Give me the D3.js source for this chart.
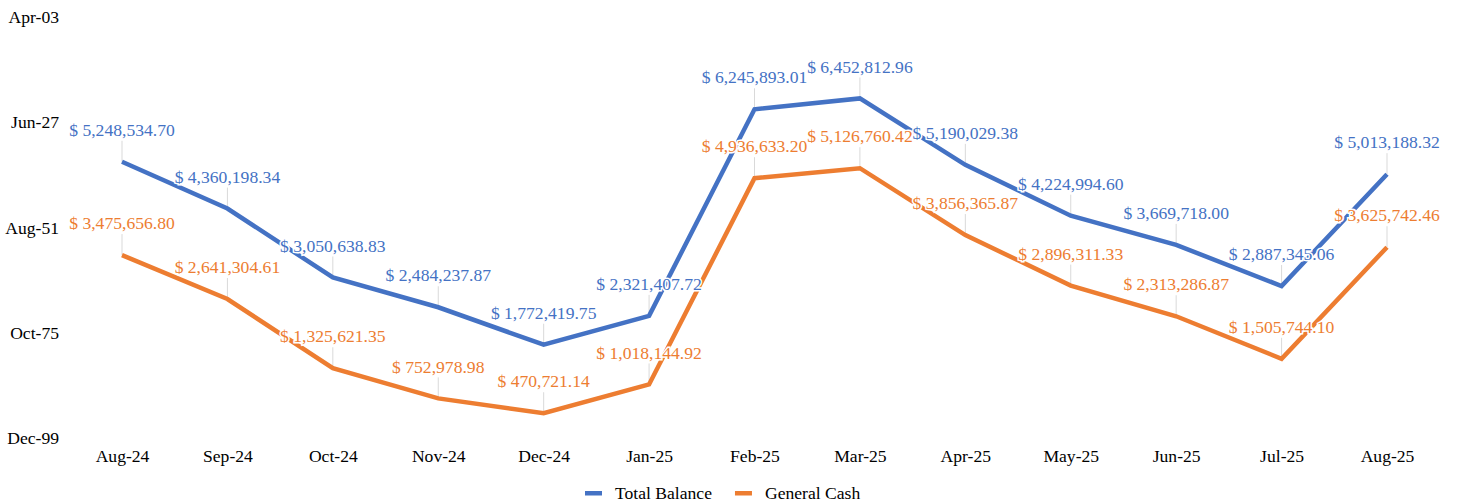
<!DOCTYPE html>
<html>
<head>
<meta charset="utf-8">
<script src="https://cdn.jsdelivr.net/npm/d3@7"></script>
<style>
  body { margin: 0; background: #fff; }
  svg { display: block; font-family: 'Liberation Serif', 'Times New Roman', serif; }
</style>
</head>
<body>
<div id="chart"></div>
<script>
// Chart data
const months = ['Aug-24', 'Sep-24', 'Oct-24', 'Nov-24', 'Dec-24', 'Jan-25', 'Feb-25',
  'Mar-25', 'Apr-25', 'May-25', 'Jun-25', 'Jul-25', 'Aug-25']
const totalBalance = [5248534.70, 4360198.34, 3050638.83, 2484237.87, 1772419.75, 2321407.72,
  6245893.01, 6452812.96, 5190029.38, 4224994.60, 3669718.00, 2887345.06, 5013188.32]
const generalCash = [3475656.80, 2641304.61, 1325621.35, 752978.98, 470721.14, 1018144.92,
  4936633.20, 5126760.42, 3856365.87, 2896311.33, 2313286.87, 1505744.10, 3625742.46]
const yTicks = [0, 2000000, 4000000, 6000000, 8000000]
const yTickLabels = ['Dec-99', 'Oct-75', 'Aug-51', 'Jun-27', 'Apr-03']

const width = 1461
const height = 503
const fontSize = 17.6
const series = [
  { name: 'Total Balance', values: totalBalance, color: '#4472C4' },
  { name: 'General Cash', values: generalCash, color: '#ED7D31' }
]

const svg = d3.select('#chart').append('svg')
  .attr('width', width)
  .attr('height', height)

const x = d3.scalePoint().domain(months).range([122, 1387])
const y = d3.scaleLinear().domain([0, 8000000]).range([438, 17])

// y axis: labels only
svg.append('g')
  .attr('transform', 'translate(59,0)')
  .call(d3.axisLeft(y).tickValues(yTicks).tickSize(0).tickPadding(0)
    .tickFormat((d, i) => yTickLabels[i]))
  .call(g => g.select('.domain').remove())
  .call(g => g.selectAll('text')
    .attr('font-family', "'Liberation Serif', serif")
    .attr('font-size', fontSize)
    .attr('fill', '#000'))

// x axis: labels only
svg.append('g')
  .attr('transform', 'translate(0,456)')
  .call(d3.axisBottom(x).tickSize(0).tickPadding(0))
  .call(g => g.select('.domain').remove())
  .call(g => g.selectAll('text')
    .attr('dy', '0.32em')
    .attr('font-family', "'Liberation Serif', serif")
    .attr('font-size', fontSize)
    .attr('fill', '#000'))

const line = d3.line()
  .x((d, i) => x(months[i]))
  .y(d => y(d))

// leader lines
series.forEach(s => {
  svg.append('g')
    .selectAll('line')
    .data(s.values)
    .join('line')
    .attr('x1', (d, i) => x(months[i]))
    .attr('x2', (d, i) => x(months[i]))
    .attr('y1', d => y(d) - 21)
    .attr('y2', d => y(d))
    .attr('stroke', '#d9d9d9')
    .attr('stroke-width', 1)
})

// series lines
series.forEach(s => {
  svg.append('path')
    .datum(s.values)
    .attr('d', line)
    .attr('fill', 'none')
    .attr('stroke', s.color)
    .attr('stroke-width', 4.5)
    .attr('stroke-linejoin', 'miter')
})

// data labels
const fmt = d3.format(',.2f')
series.forEach(s => {
  svg.append('g')
    .selectAll('text')
    .data(s.values)
    .join('text')
    .attr('x', (d, i) => x(months[i]))
    .attr('y', d => y(d) - 32)
    .attr('dy', '0.35em')
    .attr('text-anchor', 'middle')
    .attr('font-size', fontSize)
    .attr('fill', s.color)
    .attr('stroke', '#fff')
    .attr('stroke-width', 3)
    .attr('paint-order', 'stroke')
    .text(d => '$ ' + fmt(d))
})

// legend
const legend = svg.append('g').attr('transform', 'translate(585,493)')
let lx = 0
series.forEach(s => {
  const item = legend.append('g').attr('transform', 'translate(' + lx + ',0)')
  item.append('rect')
    .attr('x', 0).attr('y', -2)
    .attr('width', 17).attr('height', 4.5)
    .attr('fill', s.color)
  const t = item.append('text')
    .attr('x', 30).attr('dy', '0.35em')
    .attr('font-size', fontSize)
    .attr('fill', '#000')
    .text(s.name)
  lx += 30 + t.node().getComputedTextLength() + 23
})
</script>
</body>
</html>
